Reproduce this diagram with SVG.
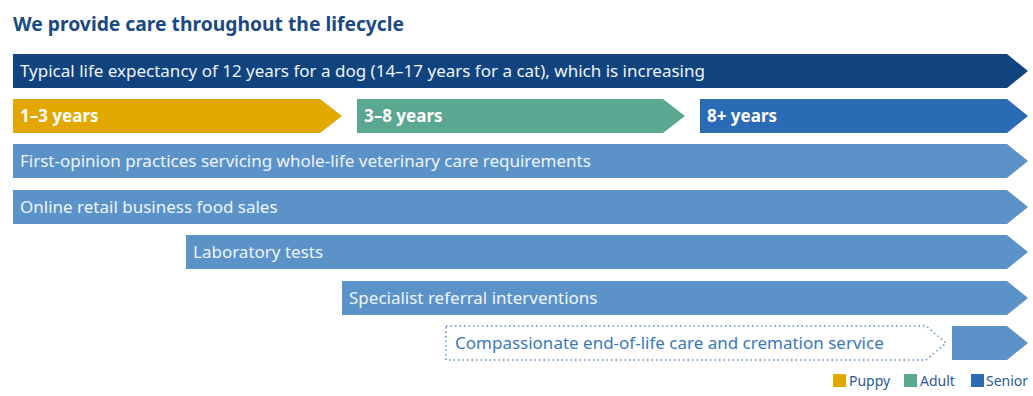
<svg xmlns="http://www.w3.org/2000/svg" width="1033" height="396" viewBox="0 0 1033 396">
<style>
.t{font-family:"Noto Sans",sans-serif;font-size:17px;fill:#eef3fa}
.b{font-family:"Noto Sans",sans-serif;font-size:17px;font-weight:bold;fill:#ffffff}
.lg{font-family:"Noto Sans",sans-serif;font-size:14px;fill:#2a5a95}
.lb{fill:#5b93c9}
</style>
<rect width="1033" height="396" fill="#ffffff"/>
<text x="13" y="31" font-family="'Noto Sans',sans-serif" font-size="19.3" font-weight="bold" fill="#1b4a82">We provide care throughout the lifecycle</text>
<g id="life">
<polygon points="13,54 1007,54 1028,71 1007,88 13,88" fill="#11437f"/>
<text class="t" x="20" y="77">Typical life expectancy of 12 years for a dog (14–17 years for a cat), which is increasing</text>
</g>
<g id="puppy">
<polygon points="13,99 320,99 342,116 320,133 13,133" fill="#e3a800"/>
<text class="b" x="20" y="122">1–3 years</text>
</g>
<g id="adult">
<polygon points="357,99 663,99 685,116 663,133 357,133" fill="#5aa891"/>
<text class="b" x="364" y="122">3–8 years</text>
</g>
<g id="senior">
<polygon points="700,99 1007,99 1028,116 1007,133 700,133" fill="#2a6bb5"/>
<text class="b" x="707" y="122">8+ years</text>
</g>
<g id="firstopinion">
<polygon class="lb" points="13,144 1007,144 1028,161 1007,178 13,178"/>
<text class="t" x="20" y="167">First-opinion practices servicing whole-life veterinary care requirements</text>
</g>
<g id="online">
<polygon class="lb" points="13,190 1007,190 1028,207 1007,224 13,224"/>
<text class="t" x="20" y="213">Online retail business food sales</text>
</g>
<g id="lab">
<polygon class="lb" points="186,235 1007,235 1028,252 1007,269 186,269"/>
<text class="t" x="193" y="258">Laboratory tests</text>
</g>
<g id="specialist">
<polygon class="lb" points="342,281 1007,281 1028,298 1007,315 342,315"/>
<text class="t" x="349" y="304">Specialist referral interventions</text>
</g>
<g id="compassionate">
<polygon points="446,326 926,326 946,343 926,360 446,360" fill="none" stroke="#5b93c9" stroke-width="1.5" stroke-dasharray="1.5,3"/>
<text x="455" y="349" font-family="'Noto Sans',sans-serif" font-size="17" fill="#3b78b8">Compassionate end-of-life care and cremation service</text>
<polygon class="lb" points="952,326 1007,326 1028,343 1007,360 952,360"/>
</g>
<g id="legend">
<rect x="833" y="374" width="13" height="13" fill="#e3a800"/>
<text class="lg" x="849" y="386">Puppy</text>
<rect x="904" y="374" width="13" height="13" fill="#5aa891"/>
<text class="lg" x="920" y="386">Adult</text>
<rect x="971" y="374" width="13" height="13" fill="#2a6bb5"/>
<text class="lg" x="986" y="386">Senior</text>
</g>
<g id="connectors"></g>
</svg>
